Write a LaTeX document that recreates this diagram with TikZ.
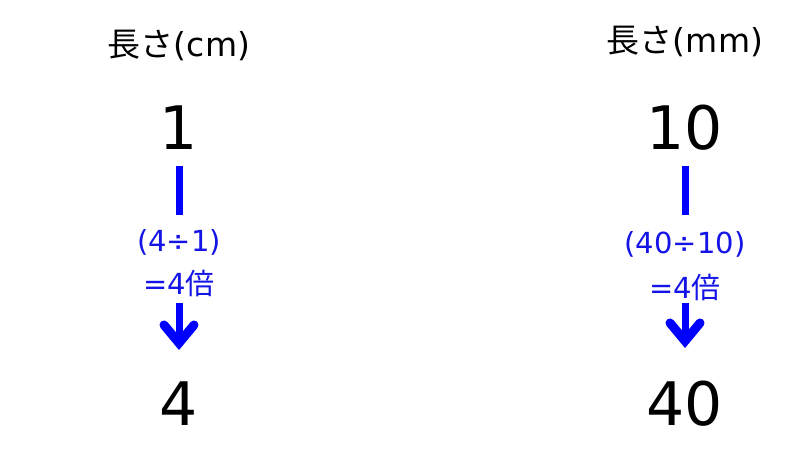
\documentclass[tikz,border=0pt]{standalone}
\usepackage{fontspec}
\setmainfont{DejaVu Sans}
\newfontfamily\jp{Noto Sans CJK JP}
\usetikzlibrary{arrows.meta}
\definecolor{lblue}{RGB}{20,20,230}
\definecolor{ablue}{RGB}{0,0,255}
\tikzset{
  head/.style={font=\fontsize{33}{33}\selectfont, anchor=base, inner sep=0pt},
  num/.style={font=\fontsize{60}{60}\selectfont, anchor=base, inner sep=0pt},
  lbl/.style={font=\fontsize{29}{29}\selectfont, text=lblue, anchor=base, inner sep=0pt},
  bar/.style={draw=ablue, line width=7pt},
  barrow/.style={draw=ablue, line width=7pt, -{Straight Barb[length=18pt,width=30pt,line width=9pt,line cap=round,line join=miter]}},
}
\begin{document}
\begin{tikzpicture}[x=1pt,y=-1pt]
\useasboundingbox (0,0) rectangle (800,450);
% left column
\node[head] (hl) at (179,56) {{\jp 長さ}(cm)};
\node[num] (nl1) at (179,149) {1};
\node[lbl] (ll1) at (179,251) {(4÷1)};
\node[lbl] (ll2) at (179,294) {=4{\jp 倍}};
\node[num] (nl2) at (179,425) {4};
\coordinate (lb1) at (179,166);
\coordinate (lb2) at (179,215);
\coordinate (la1) at (179,303);
\coordinate (la2) at (179,350);
\draw[bar] (lb1) -- (lb2);
\draw[barrow] (la1) -- (la2);
% right column
\node[head] (hr) at (685,52) {{\jp 長さ}(mm)};
\node[num] (nr1) at (685,149) {10};
\node[lbl] (lr1) at (685,253) {(40÷10)};
\node[lbl] (lr2) at (685,298) {=4{\jp 倍}};
\node[num] (nr2) at (685,425) {40};
\coordinate (rb1) at (685,166);
\coordinate (rb2) at (685,215);
\coordinate (ra1) at (685,303);
\coordinate (ra2) at (685,348);
\draw[bar] (rb1) -- (rb2);
\draw[barrow] (ra1) -- (ra2);
\end{tikzpicture}
\end{document}
